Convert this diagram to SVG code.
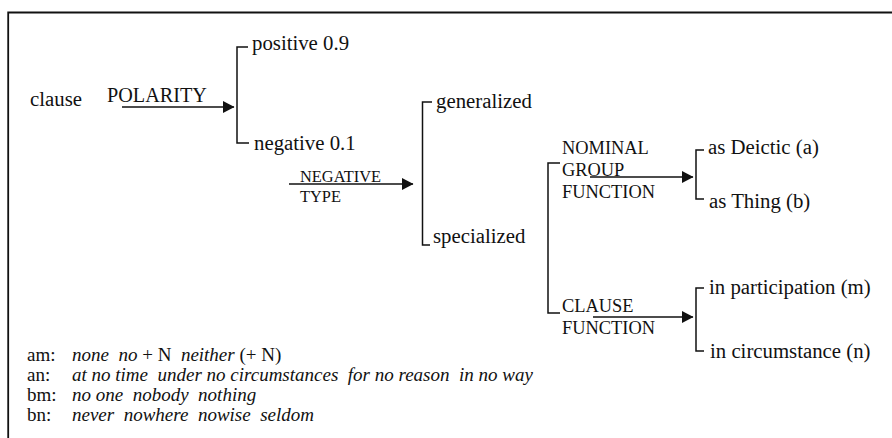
<svg xmlns="http://www.w3.org/2000/svg" width="892" height="438" viewBox="0 0 892 438">
<style>
text{font-family:"Liberation Serif","Times New Roman",serif;fill:#111}
.n{font-size:20.8px}
.s{font-size:18.4px}
.t{font-size:16.4px}
.p{font-size:20.2px}
.lg{font-size:19px}
.i{font-style:italic}
.ln{stroke:#111;stroke-width:1.6;fill:none}
.br{stroke:#111;stroke-width:1.5;fill:none}
</style>
<defs>
<marker id="ah" markerWidth="12" markerHeight="13" refX="11" refY="6.5" orient="auto" markerUnits="userSpaceOnUse">
<path d="M0,0.5 L11.5,6.5 L0,12.5 Z" fill="#111"/>
</marker>
</defs>
<rect width="892" height="438" fill="#fff"/>
<path d="M8.2,438 V12.5 H892" stroke="#111" stroke-width="1.8" fill="none"/>

<g id="connectors">
<line class="ln" x1="122" y1="107" x2="234" y2="107" marker-end="url(#ah)"/>
<path class="br" d="M248,47 H237 V143 H249"/>
<line class="ln" x1="289" y1="184" x2="413" y2="184" marker-end="url(#ah)"/>
<path class="br" d="M432,102 H422.5 V245 H430"/>
<path class="br" d="M560,163 H548 V313 H560"/>
<line class="ln" x1="590" y1="177" x2="693" y2="177" marker-end="url(#ah)"/>
<path class="br" d="M704,150 H696 V199 H704"/>
<line class="ln" x1="593" y1="317" x2="693" y2="317" marker-end="url(#ah)"/>
<path class="br" d="M704,288 H696 V351 H704"/>
</g>

<g id="clause"><text class="n" x="30" y="106">clause</text></g>
<g id="polarity"><text class="p" x="107" y="102">POLARITY</text></g>
<g id="positive"><text class="n" x="252" y="50">positive 0.9</text></g>
<g id="negative"><text class="n" x="254" y="150">negative 0.1</text></g>
<g id="negative-type"><text class="t" x="300" y="182">NEGATIVE</text><text class="t" x="300" y="202">TYPE</text></g>
<g id="generalized"><text class="n" x="436" y="108">generalized</text></g>
<g id="specialized"><text class="n" x="433" y="243">specialized</text></g>
<g id="nominal-group-function"><text class="s" x="562" y="154">NOMINAL</text><text class="s" x="562" y="176">GROUP</text><text class="s" x="562" y="198">FUNCTION</text></g>
<g id="clause-function"><text class="s" x="562" y="312">CLAUSE</text><text class="s" x="562" y="334">FUNCTION</text></g>
<g id="as-deictic"><text class="n" x="708" y="154">as Deictic (a)</text></g>
<g id="as-thing"><text class="n" x="709" y="208">as Thing (b)</text></g>
<g id="in-participation"><text class="n" x="709" y="294">in participation (m)</text></g>
<g id="in-circumstance"><text class="n" x="710" y="358">in circumstance (n)</text></g>

<g id="legend" class="lg">
<text class="lg" x="27" y="361">am:</text>
<text class="lg" x="72" y="361" xml:space="preserve"><tspan class="i">none  no</tspan> + N  <tspan class="i">neither</tspan> (+ N)</text>
<text class="lg" x="27" y="381">an:</text>
<text class="lg i" x="72" y="381" xml:space="preserve">at no time  under no circumstances  for no reason  in no way</text>
<text class="lg" x="27" y="401">bm:</text>
<text class="lg i" x="72" y="401" xml:space="preserve">no one  nobody  nothing</text>
<text class="lg" x="27" y="421">bn:</text>
<text class="lg i" x="72" y="421" xml:space="preserve">never  nowhere  nowise  seldom</text>
</g>
</svg>
